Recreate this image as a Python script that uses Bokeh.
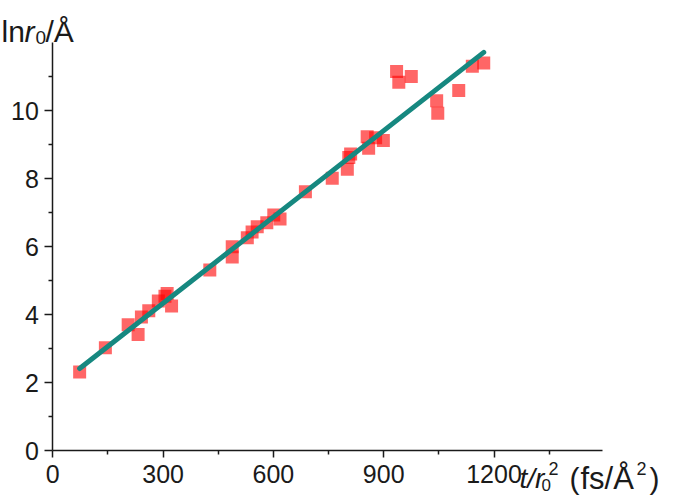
from bokeh.plotting import figure
from bokeh.models import Range1d, FixedTicker, Label, LinearAxis
from bokeh.embed import file_html
from bokeh.resources import INLINE

# data
t_r2 = [73, 143, 205, 232, 241, 261, 287, 305, 311, 323,
        427, 488, 488, 529, 542, 556, 582, 601, 618, 687,
        760, 801, 805, 810, 855, 859, 878, 899, 935, 941,
        975, 1044, 1047, 1104, 1141, 1172]
ln_r0 = [2.31, 3.02, 3.70, 3.41, 3.93, 4.11, 4.40, 4.54, 4.62, 4.25,
         5.31, 5.99, 5.69, 6.26, 6.43, 6.58, 6.70, 6.93, 6.81, 7.61,
         8.01, 8.27, 8.62, 8.72, 9.23, 8.89, 9.20, 9.12, 11.15, 10.83,
         11.00, 10.29, 9.92, 10.59, 11.30, 11.40]
fit_x = [73, 1172]
fit_y = [2.41, 11.71]

x_ticks = [0, 300, 600, 900, 1200]
x_minor = [150, 450, 750, 1050, 1350]
y_ticks = [0, 2, 4, 6, 8, 10]
y_minor = [1, 3, 5, 7, 9, 11]

X_MAX = 1495
Y_MAX = 12

W, H = 675, 495
# pixel geometry of the axes box in the reference
AL, AR, AT, AB = 52.3, 602.0, 42.0, 450.0
sx = (AR - AL) / X_MAX
sy = (AB - AT) / Y_MAX

# the plotting frame covers the whole canvas; axes are pinned at 0
p = figure(width=W, height=H, output_backend="svg", toolbar_location=None,
           x_range=Range1d(-AL / sx, (W - AL) / sx),
           y_range=Range1d(-(H - AB) / sy, AB / sy),
           x_axis_location=None, y_axis_location=None,
           min_border=0, min_border_left=0, min_border_right=0,
           min_border_top=0, min_border_bottom=0)
p.outline_line_color = None
p.background_fill_color = "white"
p.border_fill_color = "white"

xax = LinearAxis(fixed_location=0, bounds=(0, X_MAX),
                 ticker=FixedTicker(ticks=x_ticks, minor_ticks=x_minor))
yax = LinearAxis(fixed_location=0, bounds=(0, Y_MAX),
                 ticker=FixedTicker(ticks=y_ticks, minor_ticks=y_minor))
p.add_layout(xax, "below")
p.add_layout(yax, "left")
p.xgrid.visible = False
p.ygrid.visible = False

for ax in (xax, yax):
    ax.axis_line_width = 1.5
    ax.axis_line_color = "#1a1a1a"
    ax.major_tick_line_width = 1.5
    ax.minor_tick_line_width = 1.5
    ax.major_tick_line_color = "#1a1a1a"
    ax.minor_tick_line_color = "#1a1a1a"
    ax.major_tick_in = 0
    ax.minor_tick_in = 0
    ax.minor_tick_out = 4
    ax.major_label_text_font = "Liberation Sans"
    ax.major_label_text_font_size = "25px"
    ax.major_label_text_color = "#1a1a1a"
xax.major_tick_out = 7
yax.major_tick_out = 8
xax.major_label_standoff = 7
yax.major_label_standoff = 6

p.scatter(t_r2, ln_r0, marker="square", size=13, fill_color="#ff0000",
          fill_alpha=0.6, line_color=None)
p.line(fit_x, fit_y, line_color="#168880", line_width=5, line_cap="round")


def lab(txt, px, py, size, style="normal"):
    # px, py: canvas pixel position of the text's left end / baseline
    p.add_layout(Label(
        x=px, y=H - py, x_units="screen", y_units="screen",
        text=txt, text_font="Liberation Sans", text_font_size=f"{size}px",
        text_font_style=style, text_color="#1a1a1a",
        text_baseline="alphabetic", text_align="left"))


# y-axis title: ln r0 / Å
lab("ln", 1, 31, 30)
lab("r", 24, 31, 30, "italic")
lab("0", 35, 37, 19)
lab("/Å", 45, 31, 30)

# x-axis title: t/r0^2 (fs/Å^2)
lab("t/r", 519, 478, 28, "italic")
lab("0", 541, 484, 17)
lab("2", 548, 468, 18)
lab("(", 569, 478, 30)
lab("fs/Å", 580, 478, 31)
lab("2", 636, 468, 18)
lab(")", 649, 478, 30)

open("out.html", "w").write(file_html(p, INLINE))
